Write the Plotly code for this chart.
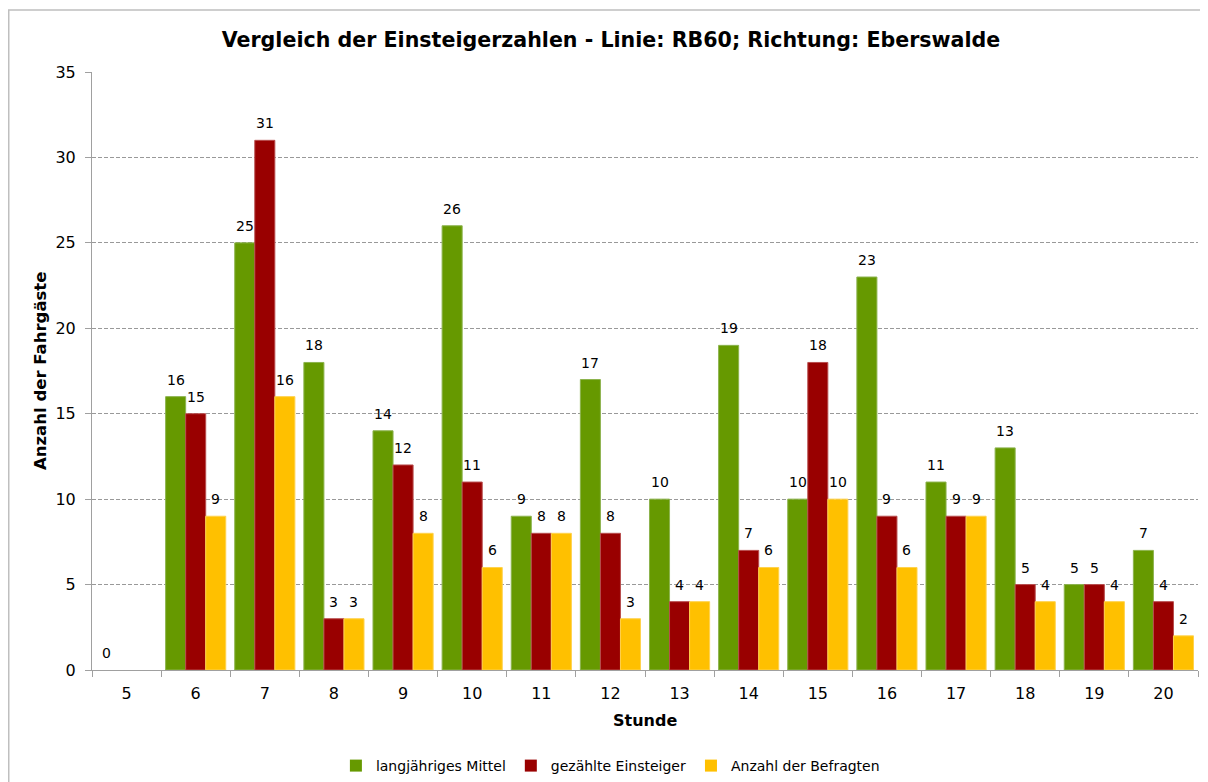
import plotly.graph_objects as go

stunden = ["5", "6", "7", "8", "9", "10", "11", "12", "13", "14", "15", "16", "17", "18", "19", "20"]
mittel = [0, 16, 25, 18, 14, 26, 9, 17, 10, 19, 10, 23, 11, 13, 5, 7]
gezaehlt = [None, 15, 31, 3, 12, 11, 8, 8, 4, 7, 18, 9, 9, 5, 5, 4]
befragt = [None, 9, 16, 3, 8, 6, 8, 3, 4, 6, 10, 6, 9, 4, 4, 2]
y_ticks = [0, 5, 10, 15, 20, 25, 30, 35]

FONT = "DejaVu Sans"

series = [
    ("langjähriges Mittel", mittel, "#669900", "#8cb34d"),
    ("gezählte Einsteiger", gezaehlt, "#990000", "#b84d4d"),
    ("Anzahl der Befragten", befragt, "#FFC000", "#ffd24d"),
]

W, H = 1200, 774
ML, MR, MT, MB = 84, 10, 64, 112
BARGAP = 0.13
plot_w = W - ML - MR
n_cat = len(stunden)
bar_px = plot_w / n_cat * (1 - BARGAP) / len(series)

fig = go.Figure()
annotations = []
for i, (name, vals, col, lcol) in enumerate(series):
    fig.add_trace(go.Bar(
        x=stunden, y=vals, name=name,
        marker=dict(color=col,
                    line=dict(color=lcol,
                              width=[(0 if (v in (None, 0)) else 1) for v in vals])),
    ))
    for j, v in enumerate(vals):
        if v is None:
            continue
        annotations.append(dict(
            x=j, y=v, xref="x", yref="y", text=str(v), showarrow=False,
            xanchor="center", yanchor="bottom", xshift=(i - 1) * bar_px, yshift=7,
            font=dict(family=FONT, size=14, color="#000000"),
        ))

annotations += [
    dict(text="<b>Stunde</b>", xref="paper", yref="paper", x=(645 - 92) / 1106,
         y=(670 - 720) / 598, xanchor="center", yanchor="middle", showarrow=False,
         font=dict(family=FONT, size=16, color="#000000")),
    dict(text="<b>Anzahl der Fahrgäste</b>", xref="paper", yref="paper",
         x=(40 - 92) / 1106, y=0.5, xanchor="center", yanchor="middle",
         textangle=-90, showarrow=False,
         font=dict(family=FONT, size=16.5, color="#000000")),
]

fig.update_layout(
    width=W, height=H,
    margin=dict(l=ML, r=MR, t=MT, b=MB, autoexpand=False),
    paper_bgcolor="white", plot_bgcolor="white",
    barmode="group", bargap=BARGAP, bargroupgap=0,
    font=dict(family=FONT, color="#000000"),
    title=dict(text="<b>Vergleich der Einsteigerzahlen - Linie: RB60; Richtung: Eberswalde</b>",
               x=603 / W, xref="container", xanchor="center",
               y=1 - 32 / H, yanchor="middle",
               font=dict(family=FONT, size=20.6, color="#000000")),
    showlegend=True,
    legend=dict(orientation="h", xref="container", yref="container",
                x=0.502, xanchor="center", y=1 - 758 / H, yanchor="middle",
                font=dict(family=FONT, size=14, color="#000000"),
                itemwidth=30, tracegroupgap=0),
    xaxis=dict(type="category", categoryorder="array", categoryarray=stunden,
               range=[-0.5, n_cat - 0.5],
               showline=True, linecolor="#a0a0a0", linewidth=1,
               ticks="outside", tickson="boundaries", ticklen=6, tickcolor="#a0a0a0",
               ticklabelstandoff=9,
               tickfont=dict(family=FONT, size=16, color="#000000"),
               showgrid=False, zeroline=False, automargin=False),
    yaxis=dict(range=[0, 35], tickvals=y_ticks, showline=True, linecolor="#a0a0a0", linewidth=1,
               ticks="outside", ticklen=6, tickcolor="#a0a0a0",
               ticklabelstandoff=6,
               tickfont=dict(family=FONT, size=16, color="#000000"),
               showgrid=True, gridcolor="#999999", griddash="4px,2px", gridwidth=1,
               zeroline=False, automargin=False),
    annotations=annotations,
    shapes=[dict(type="rect", xref="paper", yref="paper",
                 x0=(0.75 - ML) / plot_w, x1=1.05, y0=-0.3, y1=(662 - 2) / 598,
                 line=dict(color="#bfbfbf", width=1.5), fillcolor="rgba(0,0,0,0)", layer="below")],
)

fig.write_html("out.html")
